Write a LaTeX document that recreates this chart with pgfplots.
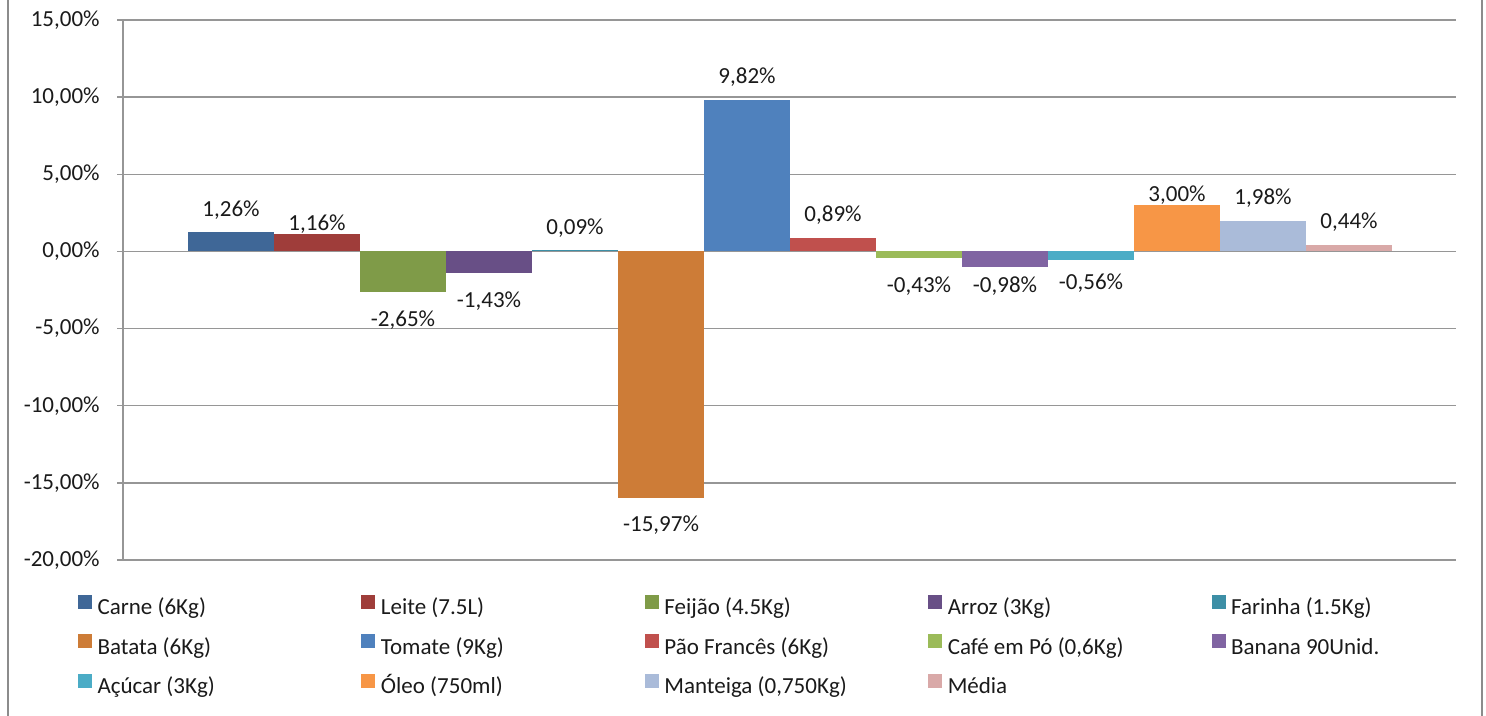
\documentclass[border=0pt]{standalone}
\usepackage{pgfplots}
\pgfplotsset{compat=1.18}
\usepackage{fontspec}
\setmainfont{Carlito}
\definecolor{c1}{HTML}{3F6797}
\definecolor{c2}{HTML}{9F3D3A}
\definecolor{c3}{HTML}{7F9B48}
\definecolor{c4}{HTML}{684F86}
\definecolor{c5}{HTML}{3D8FA6}
\definecolor{c6}{HTML}{CD7C37}
\definecolor{c7}{HTML}{4F81BD}
\definecolor{c8}{HTML}{C0504D}
\definecolor{c9}{HTML}{9BBB59}
\definecolor{c10}{HTML}{8064A2}
\definecolor{c11}{HTML}{4BACC6}
\definecolor{c12}{HTML}{F79646}
\definecolor{c13}{HTML}{AABBD9}
\definecolor{c14}{HTML}{D9A9A8}
\definecolor{gridc}{HTML}{969696}
\definecolor{framec}{HTML}{8C8C8C}
\definecolor{txt}{HTML}{1A1A1A}
\newcommand{\lab}[1]{\makebox[131.9pt][l]{#1}}
\begin{document}
\begin{tikzpicture}[x=1pt,y=1pt]
\useasboundingbox (0,0) rectangle (743,358);
\draw[framec, line width=1pt] (4,0) -- (4,358);
\draw[framec, line width=1pt] (741,0) -- (741,358);
\begin{axis}[
  at={(61.5pt,78pt)}, anchor=south west,
  scale only axis, width=666.5pt, height=270pt,
  xmin=-1.256, xmax=14.244, ymin=-20, ymax=15,
  ytick={-20,-15,...,15},
  axis x line=none, axis y line*=left,
  ymajorgrids,
  grid style={draw=gridc, line width=0.7pt},
  axis line style={draw=gridc, line width=0.7pt},
  tick style={draw=gridc, line width=0.7pt},
  major tick length=3pt, tick align=outside,
  /pgf/number format/assume math mode=true,
  yticklabel={\pgfmathprintnumber[fixed,fixed zerofill,precision=2,use comma]{\tick}\%},
  yticklabel style={font=\fontsize{11.5}{14}\selectfont, text=txt, inner sep=0pt, anchor=east, xshift=-8.5pt},
  ybar, bar width=1, bar shift=0pt,
  nodes near coords={\pgfmathprintnumber[fixed,fixed zerofill,precision=2,use comma,assume math mode=true]{\pgfplotspointmeta}\%},
  nodes near coords align=vertical,
  every node near coord/.append style={font=\fontsize{11.5}{14}\selectfont, text=txt, inner sep=0pt},
  legend columns=5,
  legend cell align=left,
  legend image code/.code={\fill[#1] (0pt,0pt) rectangle (7pt,7pt);},
  legend style={at={(-0.0338,-0.0648)}, anchor=north west, draw=none, fill=none,
    font=\fontsize{11.5}{14}\selectfont, text=txt, inner sep=0pt, outer sep=0pt,
    row sep=7.2pt,
    nodes={inner sep=0pt, text height=8.5pt, text depth=2.5pt},
    /tikz/every odd column/.append style={column sep=2.8pt}},
]
\addplot[fill=c1, draw=none, every node near coord/.append style={yshift=5.95pt}] coordinates {(0,1.26)};
\addlegendentry{\lab{Carne (6Kg)}}
\addplot[fill=c2, draw=none, every node near coord/.append style={yshift=-0.3pt}] coordinates {(1,1.16)};
\addlegendentry{\lab{Leite (7.5L)}}
\addplot[fill=c3, draw=none, every node near coord/.append style={yshift=-9.25pt}] coordinates {(2,-2.65)};
\addlegendentry{\lab{Feijão (4.5Kg)}}
\addplot[fill=c4, draw=none, every node near coord/.append style={yshift=-8.75pt}] coordinates {(3,-1.43)};
\addlegendentry{\lab{Arroz (3Kg)}}
\addplot[fill=c5, draw=none, every node near coord/.append style={yshift=6.25pt}] coordinates {(4,0.09)};
\addlegendentry{Farinha (1.5Kg)}
\addplot[fill=c6, draw=none, every node near coord/.append style={yshift=-8.55pt}] coordinates {(5,-15.97)};
\addlegendentry{\lab{Batata (6Kg)}}
\addplot[fill=c7, draw=none, every node near coord/.append style={yshift=6.75pt}] coordinates {(6,9.82)};
\addlegendentry{\lab{Tomate (9Kg)}}
\addplot[fill=c8, draw=none, every node near coord/.append style={yshift=6.55pt}] coordinates {(7,0.89)};
\addlegendentry{\lab{Pão Francês (6Kg)}}
\addplot[fill=c9, draw=none, every node near coord/.append style={yshift=-8.95pt}] coordinates {(8,-0.43)};
\addlegendentry{\lab{Café em Pó (0,6Kg)}}
\addplot[fill=c10, draw=none, every node near coord/.append style={yshift=-4.75pt}] coordinates {(9,-0.98)};
\addlegendentry{Banana 90Unid.}
\addplot[fill=c11, draw=none, every node near coord/.append style={yshift=-6.45pt}] coordinates {(10,-0.56)};
\addlegendentry{\lab{Açúcar (3Kg)}}
\addplot[fill=c12, draw=none, every node near coord/.append style={yshift=-0.05pt}] coordinates {(11,3.00)};
\addlegendentry{\lab{Óleo (750ml)}}
\addplot[fill=c13, draw=none, every node near coord/.append style={yshift=6.35pt}] coordinates {(12,1.98)};
\addlegendentry{\lab{Manteiga (0,750Kg)}}
\addplot[fill=c14, draw=none, every node near coord/.append style={yshift=6.15pt}] coordinates {(13,0.44)};
\addlegendentry{\lab{Média}}
\end{axis}
\end{tikzpicture}
\end{document}
